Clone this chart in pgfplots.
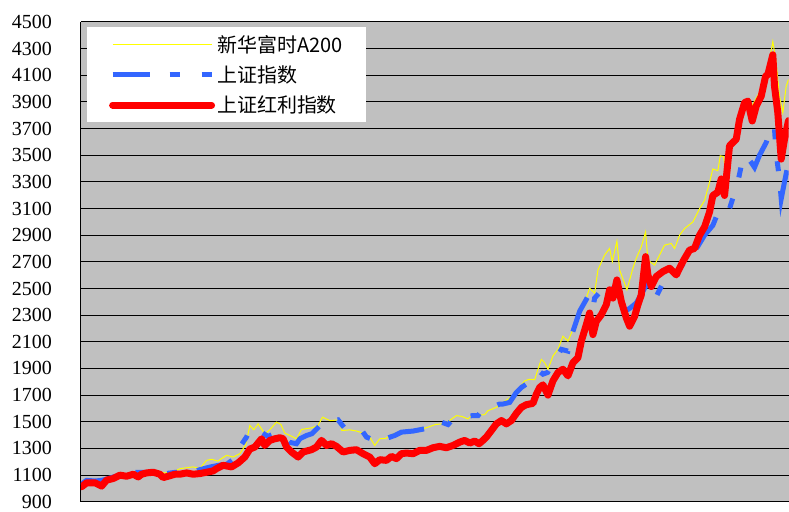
\documentclass[border=0pt]{standalone}
\usepackage{pgfplots}
\pgfplotsset{compat=1.18}
\usepackage{fontspec}
\setmainfont{Liberation Serif}
\newfontfamily\cjk{Noto Sans CJK SC}
\definecolor{bgc}{HTML}{C0C0C0}
\definecolor{yel}{HTML}{FFFF00}
\definecolor{blu}{HTML}{3366FF}
\definecolor{rd}{HTML}{FF0000}
\begin{document}
\begin{tikzpicture}
\begin{axis}[name=ax, scale only axis, width=708pt, height=480pt,
  xmin=81, xmax=789, ymin=900, ymax=4500,
  ytick={900,1100,...,4500}, xtick=\empty,
  axis lines*=left, axis line style={-, black, line width=1pt},
  tick align=inside, major tick length=8pt, tick style={black, line width=1pt},
  ymajorgrids, grid style={black, line width=1pt},
  axis background/.style={fill=bgc},
  /pgf/number format/assume math mode=true,
  /pgf/number format/set thousands separator={},
  yticklabel style={font=\fontsize{20}{24}\selectfont, inner sep=0pt, xshift=-29pt},
  legend cell align=left,
  legend image code/.code={\draw[#1] (0pt,0pt) -- (99pt,0pt);},
  legend style={at={(axis description cs:0,1)}, anchor=north west, xshift=6pt, yshift=-5pt,
    draw=none, fill=white, font=\cjk\fontsize{20}{24}\selectfont,
    inner xsep=22pt, inner ysep=6pt, row sep=8pt},
]
\addplot[yel, line width=1pt, mark=none] coordinates {
(81,1030)(87,1065)(95,1060)(102,1065)(107,1080)(113,1090)(120,1105)(127,1100)(135,1125)(145,1125)
(155,1130)(165,1115)(175,1130)(180,1148)(193,1161)(200,1150)(206.7,1210)(211.7,1218)(218,1205)(226.7,1248)
(233.3,1235)(240,1260)(246,1330)(250,1472)(254,1440)(258.3,1484)(265,1409)(270,1440)(276.7,1497)(281,1480)
(285,1414)(290,1397)(296.7,1372)(301.7,1442)(311.7,1454)(318.3,1472)(322.7,1534)(330,1509)(339.3,1514)(342,1434)
(350,1439)(357,1430)(365,1409)(370,1385)(375,1322)(380,1372)(386,1375)(393.3,1409)(403.3,1429)(413.3,1422)
(423.3,1447)(430,1464)(436,1480)(443.3,1484)(450,1510)(456.7,1546)(462,1540)(468.3,1521)(471.7,1546)(478,1550)
(485,1553)(488.3,1583)(496.7,1608)(503.3,1645)(508.3,1670)(515,1707)(520,1757)(525,1807)(530,1819)(535,1815)
(538.3,1894)(541.7,1968)(545,1943)(548.3,1894)(553.3,1993)(558.3,2043)(563.3,2142)(568.3,2105)(573.3,2192)(578.3,2279)
(583.3,2353)(590,2502)(595,2465)(598.3,2639)(605,2751)(610,2801)(612.7,2702)(617.3,2855)(620,2639)(627.3,2490)
(633.3,2652)(636.7,2727)(641.7,2813)(646,2925)(648.3,2713)(655,2676)(660,2751)(665,2825)(671.7,2838)(675,2800)
(680,2900)(685,2950)(693.3,2999)(700,3099)(705,3161)(710,3297)(713.3,3397)(718.3,3384)(720.7,3496)(724,3491)
(726.7,3347)(730,3596)(736.7,3645)(741.7,3832)(746.7,3919)(751,3850)(756,3919)(763.3,4018)(768.3,4142)(773.3,4353)
(776.7,4192)(780,3943)(783.3,3819)(786.7,4018)(789,4068)
};
\addlegendentry{新华富时A200}
\addplot[blu, line width=5pt, mark=none, dash pattern=on 37pt off 20pt on 10pt off 22pt on 10pt off 20pt] coordinates {
(81,1030)(86.7,1060)(95,1055)(101.7,1060)(106.7,1070)(113.3,1085)(120,1100)(126.7,1100)(135,1120)(145,1120)
(155,1125)(165,1110)(175,1120)(185,1125)(195,1130)(210,1160)(220,1175)(226.7,1180)(236.7,1235)(240,1310)
(246.7,1385)(250,1440)(256.7,1400)(262,1420)(268,1390)(275,1410)(283.3,1385)(290,1345)(296.7,1335)(300,1372)
(306.7,1397)(312,1410)(320,1470)(330,1504)(338.3,1514)(346.7,1434)(351.7,1447)(361.7,1439)(366.7,1385)(375,1360)
(380,1350)(386.7,1375)(395,1397)(401.7,1422)(413.3,1430)(425,1447)(430,1472)(436.7,1497)(441.7,1497)(448.3,1479)
(453.3,1521)(456.7,1539)(465,1540)(472,1545)(478.3,1546)(480,1563)(490,1600)(500,1633)(503.3,1633)(510,1645)
(516.7,1720)(521.7,1757)(530,1800)(540,1876)(543.3,1857)(548,1870)(556.7,1981)(561.7,2043)(568.3,2030)(571.7,2142)
(580,2329)(588.3,2440)(593.3,2353)(595,2428)(600,2470)(606.7,2540)(610,2552)(615,2500)(621.7,2403)(625,2329)
(630,2350)(636.7,2391)(642,2460)(646.7,2527)(650,2440)(655,2415)(663.3,2540)(668.3,2565)(675,2600)(685,2700)
(695,2776)(705,2900)(713.3,2974)(720,3099)(730,3099)(738.3,3297)(741.7,3421)(746.7,3496)(751.7,3446)(755,3409)
(760,3500)(766.7,3596)(771.7,3720)(775,3695)(776.7,3509)(780,3322)(781.7,3173)(785,3300)(789,3446)
};
\addlegendentry{上证指数}
\addplot[rd, line width=7pt, mark=none, line cap=round, line join=round] coordinates {
(81.7,1012)(86.7,1042)(95,1042)(101.7,1017)(106.7,1062)(113.3,1074)(120,1099)(126.7,1091)(133.3,1106)(138.3,1086)
(141.7,1106)(146.7,1116)(153.3,1121)(160,1106)(163.3,1081)(168.3,1091)(175,1106)(180,1106)(186.7,1116)(193.3,1106)
(200,1111)(206.7,1121)(213.3,1131)(216.7,1148)(223.3,1173)(231.7,1161)(238.3,1191)(245,1235)(250,1295)(255,1310)
(261.7,1372)(265,1322)(270,1360)(275,1372)(280,1380)(283.3,1372)(286.7,1310)(291.7,1273)(298.3,1235)(303.3,1273)
(311.7,1290)(316.7,1310)(321.7,1360)(326.7,1322)(331.7,1335)(336.7,1315)(343.3,1273)(350,1285)(356.7,1290)(363.3,1260)
(370,1235)(375,1185)(380,1215)(386.7,1210)(391.7,1240)(396.7,1223)(401.7,1260)(406.7,1265)(413.3,1260)(420,1285)
(426.7,1285)(433.3,1305)(440,1315)(446.7,1305)(453.3,1322)(460,1347)(465,1360)(470,1340)(475,1355)(479.3,1335)
(483.3,1360)(486.7,1385)(491.7,1434)(496.7,1484)(501.7,1509)(506.7,1484)(511.7,1509)(516.7,1563)(521.7,1608)(526.7,1628)
(533.3,1638)(536.7,1707)(540,1757)(543.3,1777)(548.3,1700)(553.3,1807)(558.3,1869)(563.3,1894)(568.3,1844)(573.3,1943)
(578.3,1981)(581.7,2105)(586.7,2229)(590,2316)(593.3,2154)(596.7,2254)(601.7,2303)(606.7,2378)(610,2490)(613.3,2428)
(617.3,2564)(621.7,2403)(626.7,2279)(630,2217)(635,2291)(638.3,2378)(641.7,2452)(646,2739)(648.3,2602)(651.7,2515)
(656.7,2590)(663.3,2627)(670,2652)(676.7,2602)(683.3,2702)(690,2788)(695,2801)(700,2900)(705,2962)(710,3074)
(713.3,3198)(718.3,3223)(721.7,3322)(725,3198)(730,3571)(736.7,3620)(740,3769)(745,3894)(748.3,3906)(752.7,3757)
(756.7,3869)(761.7,3943)(766,4092)(768.3,4105)(773.3,4254)(775,4018)(778.3,3819)(781.7,3471)(785,3620)(789,3760)
};
\addlegendentry{上证红利指数}
\end{axis}
\path (ax.south west) ++(-81pt,-10pt) coordinate (bl);
\path (ax.north east) ++(0pt,22pt) coordinate (tr);
\path (bl) rectangle (tr);
\end{tikzpicture}
\end{document}
